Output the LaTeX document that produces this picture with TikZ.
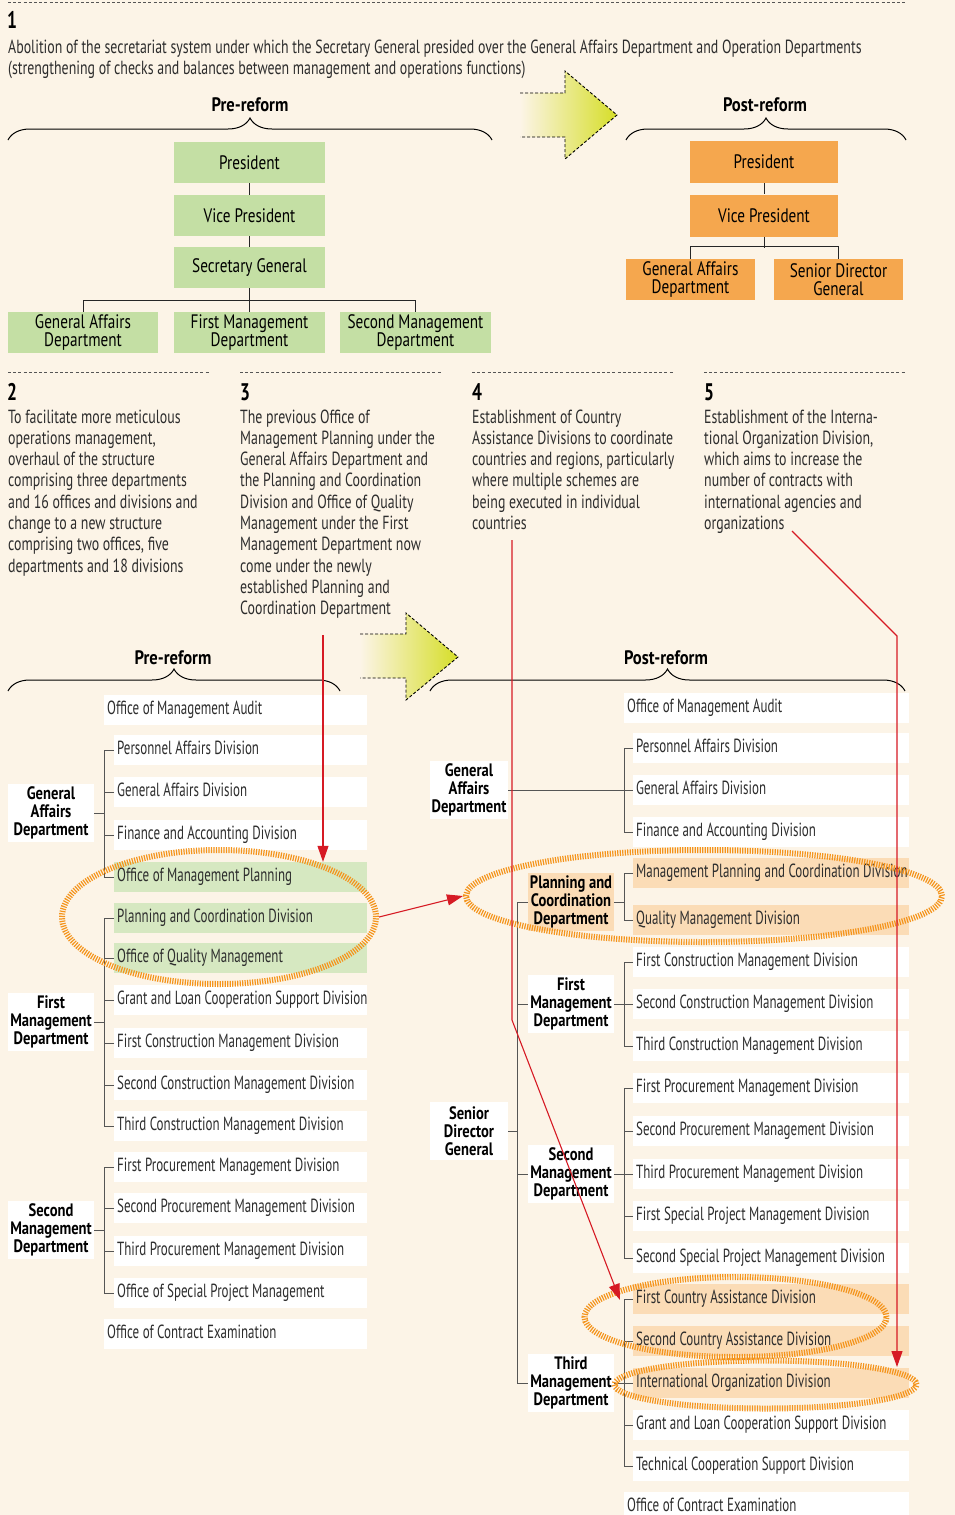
\documentclass[tikz,border=0pt]{standalone}
\usepackage{fontspec}
\setmainfont[FakeStretch=0.73]{PT Sans}
\newfontfamily\divfont[FakeStretch=0.682]{PT Sans}
\newfontfamily\labfont[FakeStretch=0.81]{PT Sans}
\newfontfamily\chartfont[FakeStretch=0.78]{PT Sans}
\newfontfamily\headfont[FakeStretch=0.85]{PT Sans}
\usetikzlibrary{shapes.geometric,arrows.meta,decorations.pathreplacing}
\definecolor{bg}{RGB}{252,244,231}
\definecolor{topgreen}{RGB}{196,223,164}
\definecolor{lightgreen}{RGB}{214,232,193}
\definecolor{toporange}{RGB}{245,167,78}
\definecolor{lightorange}{RGB}{251,220,182}
\definecolor{ellorange}{RGB}{244,148,28}
\definecolor{redline}{RGB}{214,26,36}
\definecolor{arrowyg}{RGB}{214,222,40}
\definecolor{treegray}{RGB}{85,85,85}
\definecolor{txt}{RGB}{45,45,45}
\tikzset{
  sepline/.style={draw=treegray, line width=1pt, dash pattern=on 3pt off 2.2pt},
  numlabel/.style={font=\fontsize{24}{24}\selectfont\bfseries, inner sep=0pt, anchor=base west},
  bodytext/.style={font=\fontsize{19}{21.3}\selectfont, text=txt, align=left, inner sep=0pt, anchor=base west},
  heading/.style={font=\headfont\fontsize{19.5}{19.5}\selectfont\bfseries, inner sep=0pt, anchor=base},
  bracestyle/.style={decorate, decoration={brace, amplitude=22pt}, line width=1pt},
  topbox/.style={minimum height=41pt, inner sep=0pt, align=center, font=\chartfont\fontsize{19.5}{18.5}\selectfont},
  gbox/.style={topbox, fill=topgreen, minimum width=151pt},
  obox/.style={topbox, fill=toporange},
  chartline/.style={draw=black!85, line width=0.9pt},
  arrowoutline/.style={line width=0.9pt, dash pattern=on 3pt off 2pt},
  divbase/.style={anchor=west, minimum height=30pt, inner xsep=3pt, inner ysep=0pt, font=\divfont\fontsize{19}{20}\selectfont, text=txt, text height=13pt, text depth=4pt, fill=white, execute at begin node={\hbox\bgroup\spaceskip=0pt\xspaceskip=0pt\relax}, execute at end node={\egroup}},
  ldiv/.style={divbase, text width=247pt},
  loff/.style={divbase, text width=257pt},
  rdiv/.style={divbase, text width=270pt},
  roff/.style={divbase, text width=279pt},
  lab/.style={fill=white, align=center, inner sep=0pt, minimum width=86pt, minimum height=58pt, font=\labfont\fontsize{18}{18}\selectfont\bfseries},
  tree/.style={draw=treegray, line width=1pt},
  hiliteell/.style={ellipse, draw=ellorange, line width=6pt, dash pattern=on 1.2pt off 1.3pt, inner sep=0pt},
  redarrow/.style={draw=redline, line width=1.1pt, -{Triangle[length=16pt,width=11pt]}},
}
\begin{document}
\begin{tikzpicture}[x=1pt,y=-1pt]
\fill[bg] (0,0) rectangle (955,1515);
\useasboundingbox (0,0) rectangle (955,1515);

% ---------- section 1
\draw[sepline] (8,2) -- (905,2);
\node[numlabel] (n1) at (7,28) {1};
\node[bodytext] (t1) at (8,74.3) {Abolition of the secretariat system under which the Secretary General presided over the General Affairs Department and Operation Departments\\(strengthening of checks and balances between management and operations functions)};

% block arrow 1
\shade[left color=bg, right color=arrowyg] (520,93) -- (565,93) -- (565,71) -- (617,115) -- (565,159) -- (565,137) -- (520,137) -- cycle;
\draw[arrowoutline] (520,93) -- (565,93) -- (565,71) -- (617,115) -- (565,159) -- (565,137) -- (520,137);

\node[heading] (h1) at (250,111) {Pre-reform};
\node[heading] (h2) at (765,111) {Post-reform};
\draw[bracestyle] (8,140) -- (492,140);
\draw[bracestyle] (626,140) -- (906,140);

% pre-reform top chart
\node[gbox] (ppres) at (249.5,162.5) {President};
\node[gbox] (pvp) at (249.5,215.5) {Vice President};
\node[gbox] (psg) at (249.5,267.5) {Secretary General};
\node[gbox, minimum width=150pt] (pga) at (83,332.5) {General Affairs\\Department};
\node[gbox] (pfm) at (249.5,332.5) {First Management\\Department};
\node[gbox] (psm) at (415.5,332.5) {Second Management\\Department};
\draw[chartline] (ppres) -- (pvp);
\draw[chartline] (pvp) -- (psg);
\draw[chartline] (psg) -- (pfm);
\draw[chartline] (pga.north) -- ++(0,-11) -| (psm.north);

% post-reform top chart
\node[obox, minimum width=148pt, minimum height=42pt] (opres) at (764,162) {President};
\node[obox, minimum width=148pt, minimum height=42pt] (ovp) at (764,215.5) {Vice President};
\node[obox, minimum width=129pt] (oga) at (690.5,279.5) {General Affairs\\Department};
\node[obox, minimum width=129pt] (osdg) at (838.5,279.5) {Senior Director\\General};
\draw[chartline] (opres) -- (ovp);
\draw[chartline] (ovp.south) -- ++(0,11);
\draw[chartline] (oga.north) -- ++(0,-12) -| (osdg.north);

% ---------- sections 2-5
\draw[sepline] (8,372) -- (210,372);
\draw[sepline] (240,372) -- (442,372);
\draw[sepline] (472,372) -- (674,372);
\draw[sepline] (704,372) -- (906,372);
\node[numlabel] (n2) at (7,400) {2};
\node[numlabel] (n3) at (240,400) {3};
\node[numlabel] (n4) at (472,400) {4};
\node[numlabel] (n5) at (704,400) {5};
\node[bodytext] (t2) at (8,572.1) {To facilitate more meticulous\\operations management,\\overhaul of the structure\\comprising three departments\\and 16 offices and divisions and\\change to a new structure\\comprising two offices, five\\departments and 18 divisions};
\node[bodytext] (t3) at (240,614.7) {The previous Office of\\Management Planning under the\\General Affairs Department and\\the Planning and Coordination\\Division and Office of Quality\\Management under the First\\Management Department now\\come under the newly\\established Planning and\\Coordination Department};
\node[bodytext] (t4) at (472,529.5) {Establishment of Country\\Assistance Divisions to coordinate\\countries and regions, particularly\\where multiple schemes are\\being executed in individual\\countries};
\node[bodytext] (t5) at (704,529.5) {Establishment of the Interna-\\tional Organization Division,\\which aims to increase the\\number of contracts with\\international agencies and\\organizations};

% block arrow 2
\shade[left color=bg, right color=arrowyg] (360,634) -- (406,634) -- (406,613) -- (458,657) -- (406,700) -- (406,678) -- (360,678) -- cycle;
\draw[arrowoutline] (360,634) -- (406,634) -- (406,613) -- (458,657) -- (406,700) -- (406,678) -- (360,678);

\node[heading] (h3) at (173,664) {Pre-reform};
\node[heading] (h4) at (666,664) {Post-reform};
\draw[bracestyle] (8,691) -- (340,691);
\draw[bracestyle] (430,691) -- (905,691);

% ---------- lower pre-reform column
\node[loff] (l1) at (104,710) {Office of Management Audit};
\node[ldiv] (l2) at (114,750) {Personnel Affairs Division};
\node[ldiv] (l3) at (114,792) {General Affairs Division};
\node[ldiv] (l4) at (114,835) {Finance and Accounting Division};
\node[ldiv, fill=lightgreen] (l5) at (114,877) {Office of Management Planning};
\node[ldiv, fill=lightgreen] (l6) at (114,918) {Planning and Coordination Division};
\node[ldiv, fill=lightgreen] (l7) at (114,958) {Office of Quality Management};
\node[ldiv] (l8) at (114,1000) {Grant and Loan Cooperation Support Division};
\node[ldiv] (l9) at (114,1043) {First Construction Management Division};
\node[ldiv] (l10) at (114,1085) {Second Construction Management Division};
\node[ldiv] (l11) at (114,1126) {Third Construction Management Division};
\node[ldiv] (l12) at (114,1167) {First Procurement Management Division};
\node[ldiv] (l13) at (114,1208) {Second Procurement Management Division};
\node[ldiv] (l14) at (114,1251) {Third Procurement Management Division};
\node[ldiv] (l15) at (114,1293) {Office of Special Project Management};
\node[loff] (l16) at (104,1334) {Office of Contract Examination};

\node[lab] (lGA) at (51,813) {General\\Affairs\\Department};
\node[lab] (lFM) at (51,1022) {First\\Management\\Department};
\node[lab] (lSM) at (51,1230) {Second\\Management\\Department};

\draw[tree] (lGA.east) -- ++(10,0);
\draw[tree] (l2.west) -- ++(-10,0) |- (l5.west);
\draw[tree] (l3.west) -- ++(-10,0);
\draw[tree] (l4.west) -- ++(-10,0);
\draw[tree] (lFM.east) -- ++(10,0);
\draw[tree] (l6.west) -- ++(-10,0) |- (l11.west);
\foreach \n in {l7,l8,l9,l10} \draw[tree] (\n.west) -- ++(-10,0);
\draw[tree] (lSM.east) -- ++(10,0);
\draw[tree] (l12.west) -- ++(-10,0) |- (l15.west);
\foreach \n in {l13,l14} \draw[tree] (\n.west) -- ++(-10,0);

% ---------- lower post-reform column
\node[roff] (r1) at (624,708) {Office of Management Audit};
\node[rdiv] (r2) at (633,748) {Personnel Affairs Division};
\node[rdiv] (r3) at (633,790) {General Affairs Division};
\node[rdiv] (r4) at (633,832) {Finance and Accounting Division};
\node[rdiv, fill=lightorange] (r5) at (633,873) {Management Planning and Coordination Division};
\node[rdiv, fill=lightorange] (r6) at (633,920) {Quality Management Division};
\node[rdiv] (r7) at (633,962) {First Construction Management Division};
\node[rdiv] (r8) at (633,1004) {Second Construction Management Division};
\node[rdiv] (r9) at (633,1046) {Third Construction Management Division};
\node[rdiv] (r10) at (633,1088) {First Procurement Management Division};
\node[rdiv] (r11) at (633,1131) {Second Procurement Management Division};
\node[rdiv] (r12) at (633,1174) {Third Procurement Management Division};
\node[rdiv] (r13) at (633,1216) {First Special Project Management Division};
\node[rdiv] (r14) at (633,1258) {Second Special Project Management Division};
\node[rdiv, fill=lightorange] (r15) at (633,1299) {First Country Assistance Division};
\node[rdiv, fill=lightorange] (r16) at (633,1341) {Second Country Assistance Division};
\node[rdiv, fill=lightorange] (r17) at (633,1383) {International Organization Division};
\node[rdiv] (r18) at (633,1425) {Grant and Loan Cooperation Support Division};
\node[rdiv] (r19) at (633,1466) {Technical Cooperation Support Division};
\node[roff] (r20) at (624,1507) {Office of Contract Examination};

\node[lab, minimum width=78pt] (rGA) at (469,790) {General\\Affairs\\Department};
\node[lab, fill=lightorange] (rPCD) at (571,902) {Planning and\\Coordination\\Department};
\node[lab] (rFM) at (571,1004) {First\\Management\\Department};
\node[lab, minimum width=78pt] (rSDG) at (469,1131) {Senior\\Director\\General};
\node[lab] (rSM) at (571,1174) {Second\\Management\\Department};
\node[lab] (rTM) at (571,1383) {Third\\Management\\Department};

\draw[tree] (rGA.east) -- (r3.west);
\draw[tree] (r2.west) -- ++(-9,0) |- (r4.west);
\draw[tree] (rPCD.east) -- ++(10,0);
\draw[tree] (r5.west) -- ++(-9,0) |- (r6.west);
\draw[tree] (rFM.east) -- (r8.west);
\draw[tree] (r7.west) -- ++(-9,0) |- (r9.west);
\draw[tree] (rSM.east) -- (r12.west);
\draw[tree] (r10.west) -- ++(-9,0) |- (r14.west);
\foreach \n in {r11,r13} \draw[tree] (\n.west) -- ++(-9,0);
\draw[tree] (rTM.east) -- (r17.west);
\draw[tree] (r15.west) -- ++(-9,0) |- (r19.west);
\foreach \n in {r16,r18} \draw[tree] (\n.west) -- ++(-9,0);
\draw[tree] (rSDG.east) -- ++(10,0);
\draw[tree] (rPCD.west) -- ++(-10,0) |- (rTM.west);
\foreach \n in {rFM,rSM} \draw[tree] (\n.west) -- ++(-10,0);

% ---------- highlight ellipses
\node[hiliteell, minimum width=314pt, minimum height=134pt] (elL) at (219,917) {};
\node[hiliteell, minimum width=476pt, minimum height=92pt] (elP) at (704,896) {};
\node[hiliteell, minimum width=302pt, minimum height=80pt] (elC) at (735.5,1317) {};
\node[hiliteell, minimum width=302pt, minimum height=48pt] (elI) at (765.5,1384.5) {};

% ---------- red arrows
\coordinate (s3) at (323,635);
\draw[redarrow] (s3) -- (s3 |- l5.north);
\draw[redarrow] (elL.east) -- (elP.west);
\coordinate (s4) at (512,540);
\coordinate (b4) at (512,1020);
\coordinate (e4) at (620,1300);
\draw[redarrow] (s4) -- (b4) -- (e4);
\coordinate (s5) at (792,531);
\coordinate (b5) at (897,636);
\coordinate (e5) at (897,1367);
\draw[redarrow] (s5) -- (b5) -- (e5);
\end{tikzpicture}
\end{document}
